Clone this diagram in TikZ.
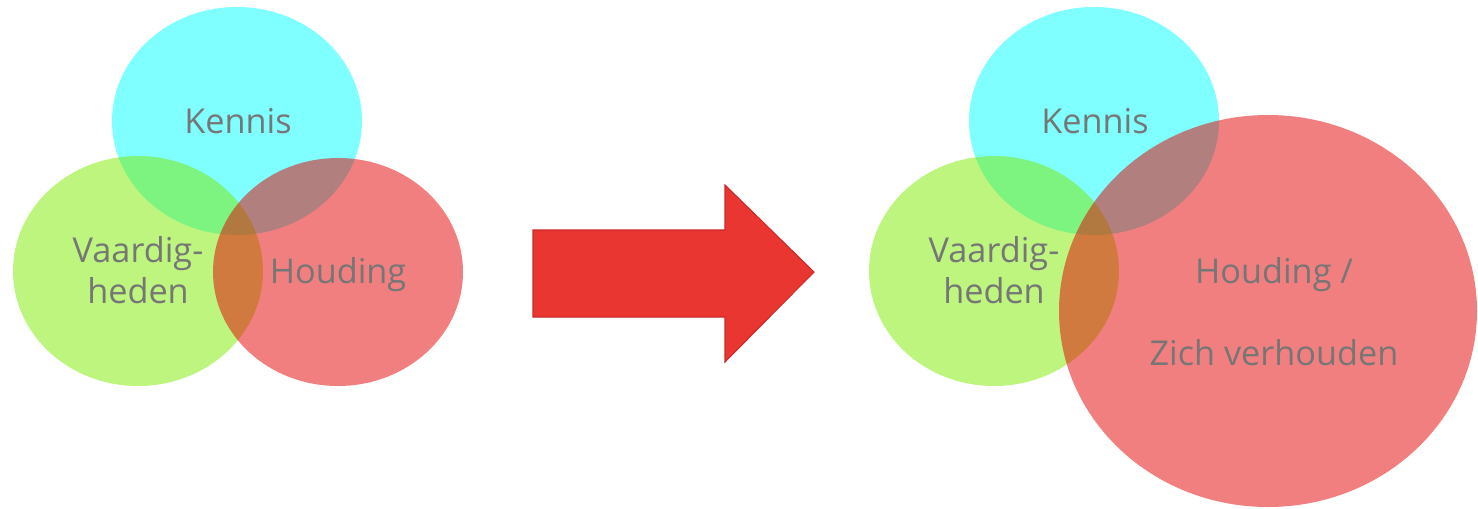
\documentclass[tikz,border=0pt]{standalone}
\usepackage{fontspec}
\setmainfont{Open Sans}
\definecolor{kenniscol}{RGB}{0,255,255}
\definecolor{vaardcol}{RGB}{123,235,0}
\definecolor{houdcol}{RGB}{230,0,0}
\definecolor{pijlrood}{RGB}{233,54,49}
\definecolor{pijlrand}{RGB}{205,40,40}
\definecolor{tekstgrijs}{RGB}{118,118,118}
\tikzset{
  cirkel/.style={fill opacity=0.5},
  label/.style={text=tekstgrijs, font=\fontsize{19.5}{23}\selectfont, align=center, inner sep=0pt, anchor=base}
}
\begin{document}
\begin{tikzpicture}[x=0.02cm, y=-0.02cm]
\useasboundingbox (0,0) rectangle (1478,508);
\fill[cirkel, kenniscol] (237,121) ellipse [x radius=125, y radius=114];
\fill[cirkel, vaardcol] (138,271) ellipse [x radius=125, y radius=115];
\fill[cirkel, houdcol] (338,272) ellipse [x radius=125, y radius=114];
\node[label] (kennis1) at (238,133) {Kennis};
\node[label] (vaard1) at (138,303) {Vaardig-\\heden};
\node[label] (houding1) at (338,283) {Houding};
\fill[pijlrood, draw=pijlrand, line width=0.6pt] (533,230) -- (725,230) -- (725,185) -- (814,272) -- (725,362) -- (725,317) -- (533,317) -- cycle;
\fill[cirkel, kenniscol] (1094,121) ellipse [x radius=125, y radius=114];
\fill[cirkel, vaardcol] (994,271) ellipse [x radius=125, y radius=115];
\fill[cirkel, houdcol] (1268,311) ellipse [x radius=209, y radius=196];
\node[label] (kennis2) at (1095,133) {Kennis};
\node[label] (vaard2) at (994,303) {Vaardig-\\heden};
\node[label] (houding2) at (1274,283) {Houding /};
\node[label] (verhouden) at (1274,365) {Zich verhouden};
\end{tikzpicture}
\end{document}
